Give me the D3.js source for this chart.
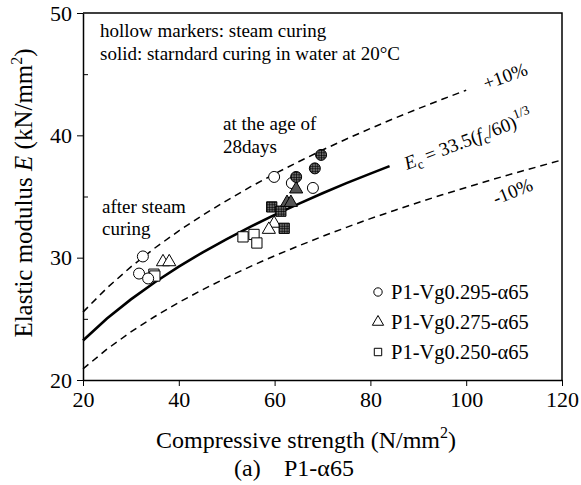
<!DOCTYPE html>
<html>
<head>
<meta charset="utf-8">
<script src="https://cdn.jsdelivr.net/npm/d3@7"></script>
<style>
  body { margin: 0; background: #fff; }
  text { font-family: "Liberation Serif", "Times New Roman", serif; fill: #000; }
</style>
</head>
<body>
<div id="chart"></div>
<script>
// design curve Ec = 33.5(fc/60)^(1/3), read at 5 N/mm2 steps
const curveFc = [20, 25, 30, 35, 40, 45, 50, 55, 60, 65, 70, 75, 80, 84];
const curveE = [23.23, 25.02, 26.59, 27.99, 29.27, 30.44, 31.52, 32.54, 33.5, 34.4, 35.27, 36.09, 36.87, 37.48];

// +10% band
const upperFc = [20, 25, 30, 35, 40, 45, 50, 55, 60, 65, 70, 75, 80, 85, 90, 95, 100];
const upperE = [25.55, 27.52, 29.25, 30.79, 32.19, 33.48, 34.67, 35.8, 36.85, 37.84, 38.8, 39.7, 40.56, 41.39, 42.18, 42.95, 43.69];

// -10% band
const lowerFc = [20, 25, 30, 35, 40, 45, 50, 55, 60, 65, 70, 75, 80, 85, 90, 95, 100, 105, 110, 115, 120];
const lowerE = [20.91, 22.52, 23.93, 25.19, 26.34, 27.39, 28.37, 29.29, 30.15, 30.96, 31.74, 32.48, 33.19, 33.86, 34.51, 35.14, 35.74, 36.33, 36.9, 37.44, 37.99];

// P1-Vg0.295-a65 (circles)
const circleSteam = [[32.5, 30.1], [31.7, 28.7], [33.6, 28.3], [59.9, 36.6], [63.6, 36.1], [68.0, 35.7]];
const circleWater = [[64.5, 36.6], [68.4, 37.3], [69.7, 38.4]];

// P1-Vg0.275-a65 (triangles)
const triSteam = [[36.7, 29.65], [38.0, 29.65], [59.9, 32.8], [58.8, 32.3]];
const triWater = [[62.6, 34.5], [63.4, 34.5], [64.5, 35.6]];

// P1-Vg0.250-a65 (squares)
const squareSteam = [[34.8, 28.65], [35.0, 28.5], [53.4, 31.7], [55.7, 31.9], [56.3, 31.2]];
const squareWater = [[59.4, 34.15], [61.3, 33.8], [62.0, 32.4]];

const legendLabels = ['P1-Vg0.295-α65', 'P1-Vg0.275-α65', 'P1-Vg0.250-α65'];
const legendShapes = ['circle', 'triangle', 'square'];

const xTicks = [20, 40, 60, 80, 100, 120];
const yTicks = [20, 30, 40, 50];
const yMinor = [25, 35, 45];

const width = 581;
const height = 485;

const svg = d3.select('#chart')
  .append('svg')
  .attr('width', width)
  .attr('height', height);

// hatch for the solid markers
const defs = svg.append('defs');
const mesh = defs.append('pattern')
  .attr('id', 'mesh')
  .attr('patternUnits', 'userSpaceOnUse')
  .attr('width', 2.5)
  .attr('height', 2.5);
mesh.append('rect').attr('width', 2.5).attr('height', 2.5).attr('fill', '#6a6a6a');
mesh.append('path').attr('d', 'M0,0H2.5M0,0V2.5').attr('stroke', '#000').attr('stroke-width', 1.2);

const xScale = d3.scaleLinear().domain([20, 120]).range([83, 562]);
const yScale = d3.scaleLinear().domain([20, 50]).range([380, 13]);

// axes
svg.append('g')
  .attr('transform', `translate(0,${yScale(20)})`)
  .call(d3.axisBottom(xScale).tickValues(xTicks).tickSize(6).tickSizeOuter(0).tickPadding(5))
  .call(g => g.selectAll('text').attr('font-size', 22))
  .call(g => g.select('.domain').attr('stroke-width', 1.5));

svg.append('g')
  .attr('transform', `translate(${xScale(20)},0)`)
  .call(d3.axisLeft(yScale).tickValues(yTicks).tickSize(6).tickSizeOuter(0).tickPadding(5))
  .call(g => g.selectAll('text').attr('font-size', 22))
  .call(g => g.select('.domain').attr('stroke-width', 1.5));

svg.append('g')
  .attr('transform', `translate(${xScale(20)},0)`)
  .call(d3.axisRight(yScale).tickValues(yMinor).tickSize(5).tickFormat(''))
  .call(g => g.select('.domain').remove());

// frame top and right
svg.append('path')
  .attr('d', `M${xScale(20)},${yScale(50)}H${xScale(120)}V${yScale(20)}`)
  .attr('fill', 'none')
  .attr('stroke', '#000')
  .attr('stroke-width', 1.5);

const line = d3.line().x(d => xScale(d[0])).y(d => yScale(d[1]));

svg.append('path')
  .attr('d', line(upperFc.map((v, i) => [v, upperE[i]])))
  .attr('fill', 'none').attr('stroke', '#000').attr('stroke-width', 1.5)
  .attr('stroke-dasharray', '7,5');

svg.append('path')
  .attr('d', line(lowerFc.map((v, i) => [v, lowerE[i]])))
  .attr('fill', 'none').attr('stroke', '#000').attr('stroke-width', 1.5)
  .attr('stroke-dasharray', '7,5');

svg.append('path')
  .attr('d', line(curveFc.map((v, i) => [v, curveE[i]])))
  .attr('fill', 'none').attr('stroke', '#000').attr('stroke-width', 2.6);

// markers
const symbolType = { circle: d3.symbolCircle, triangle: d3.symbolTriangle, square: d3.symbolSquare };
const symbolSize = { circle: 95, triangle: 75, square: 105 };

function drawMarkers(data, shape, fill) {
  svg.append('g')
    .selectAll('path')
    .data(data)
    .enter()
    .append('path')
    .attr('transform', d => `translate(${xScale(d[0])},${yScale(d[1])})`)
    .attr('d', d3.symbol().type(symbolType[shape]).size(symbolSize[shape]))
    .attr('fill', fill)
    .attr('stroke', '#000')
    .attr('stroke-width', 1);
}

drawMarkers(squareSteam, 'square', '#fff');
drawMarkers(triSteam, 'triangle', '#fff');
drawMarkers(circleSteam, 'circle', '#fff');
drawMarkers(squareWater, 'square', 'url(#mesh)');
drawMarkers(triWater, 'triangle', '#555');
drawMarkers(circleWater, 'circle', 'url(#mesh)');

// legend
const legend = svg.append('g');
legendLabels.forEach((label, i) => {
  const ly = 292 + i * 30;
  legend.append('path')
    .attr('transform', `translate(378,${ly})`)
    .attr('d', d3.symbol().type(symbolType[legendShapes[i]]).size(55))
    .attr('fill', '#fff').attr('stroke', '#000').attr('stroke-width', 1);
  legend.append('text')
    .attr('x', 391).attr('y', ly + 7)
    .attr('font-size', 20.5)
    .text(label);
});

// notes
svg.append('text').attr('x', 100).attr('y', 37).attr('font-size', 19)
  .text('hollow markers: steam curing');
svg.append('text').attr('x', 100).attr('y', 60).attr('font-size', 19)
  .text('solid: starndard curing in water at 20°C');

svg.append('text').attr('x', 223).attr('y', 130).attr('font-size', 19).text('at the age of');
svg.append('text').attr('x', 223).attr('y', 153).attr('font-size', 19).text('28days');

svg.append('text').attr('x', 102).attr('y', 213).attr('font-size', 19).text('after steam');
svg.append('text').attr('x', 102).attr('y', 235).attr('font-size', 19).text('curing');

const eq = svg.append('text')
  .attr('transform', 'translate(407,170) rotate(-21)')
  .attr('font-size', 19);
eq.append('tspan').attr('font-style', 'italic').text('E');
eq.append('tspan').attr('font-size', 13).attr('dy', 4).text('c');
eq.append('tspan').attr('dy', -4).text(' = 33.5(');
eq.append('tspan').attr('font-style', 'italic').text('f');
eq.append('tspan').attr('font-size', 13).attr('dy', 4).text('c');
eq.append('tspan').attr('dy', -4).text('/60)');
eq.append('tspan').attr('font-size', 13).attr('dy', -9).text('1/3');

svg.append('text')
  .attr('transform', 'translate(486,90) rotate(-20)')
  .attr('font-size', 19).text('+10%');

svg.append('text')
  .attr('transform', 'translate(496,205) rotate(-22)')
  .attr('font-size', 19).text('-10%');

// axis titles
const xt = svg.append('text')
  .attr('x', 306).attr('y', 448)
  .attr('text-anchor', 'middle').attr('font-size', 24);
xt.append('tspan').text('Compressive strength (N/mm');
xt.append('tspan').attr('font-size', 16).attr('dy', -10).text('2');
xt.append('tspan').attr('dy', 10).text(')');

const sub = svg.append('text').attr('y', 476).attr('font-size', 24);
sub.append('tspan').attr('x', 234).text('(a)');
sub.append('tspan').attr('x', 284).text('P1-α65');

const yt = svg.append('text')
  .attr('transform', 'translate(32,193) rotate(-90)')
  .attr('text-anchor', 'middle').attr('font-size', 25);
yt.append('tspan').text('Elastic modulus ');
yt.append('tspan').attr('font-style', 'italic').text('E');
yt.append('tspan').text(' (kN/mm');
yt.append('tspan').attr('font-size', 16).attr('dy', -10).text('2');
yt.append('tspan').attr('dy', 10).text(')');
</script>
</body>
</html>
